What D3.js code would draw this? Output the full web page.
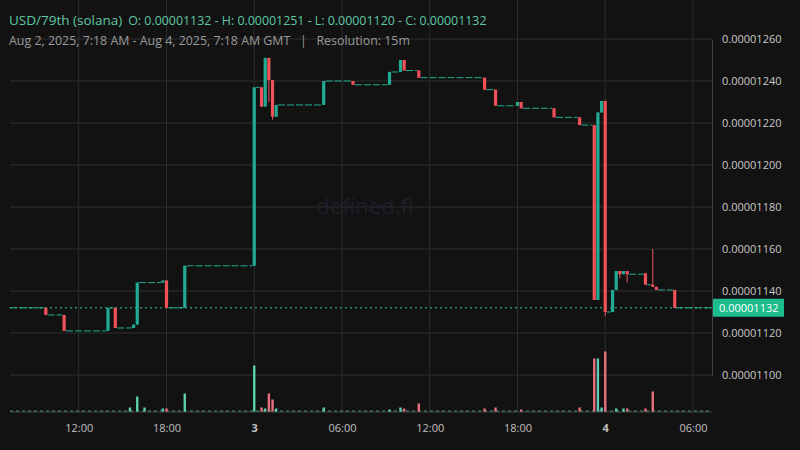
<!DOCTYPE html>
<html>
<head>
<meta charset="utf-8">
<script src="https://cdn.jsdelivr.net/npm/d3@7"></script>
<style>
  body { margin: 0; background: #121212; }
  svg { display: block; font-family: "Open Sans", "Noto Sans", sans-serif; }
</style>
</head>
<body>
<div id="chart"></div>
<script>
// candle times in hours from Aug 2 00:00 GMT, prices in 1e-8 units
const times  = [9.75, 11, 14, 14.5, 15.75, 16, 17.75, 18, 19.25, 24, 24.5, 24.75, 25, 25.25, 25.5, 28.75, 30.75, 33.25, 34, 34.25, 35.25, 39.75, 40.5, 42, 42.25, 44.5, 46.25, 47.25, 47.5, 47.75, 48, 48.5, 48.75, 49, 49.25, 49.5, 50.75, 51.25, 51.5, 52.75];
const opens  = [1132, 1128.6, 1121, 1132, 1122.4, 1124, 1144, 1145, 1132, 1152, 1237, 1227.8, 1251, 1240.5, 1223, 1228.6, 1240, 1238.2, 1244.3, 1250, 1245, 1241.6, 1235.9, 1228.2, 1230, 1227, 1222.7, 1219, 1135.7, 1225, 1230.5, 1130, 1140.5, 1149.5, 1148, 1149.5, 1148.5, 1143, 1142, 1140.5];
const highs  = [1132, 1128.6, 1132, 1132, 1124, 1144, 1145, 1145, 1152, 1237, 1237, 1251, 1251, 1240.5, 1228.6, 1240, 1240, 1244.3, 1250, 1250, 1245, 1241.6, 1235.9, 1230, 1230, 1227, 1222.7, 1219, 1225, 1230.5, 1230.5, 1140.5, 1149.5, 1149.5, 1149.5, 1149.5, 1148.5, 1160, 1142, 1140.5];
const lows   = [1128.6, 1121, 1121, 1122.4, 1122.4, 1124, 1144, 1132, 1132, 1152, 1227.8, 1227.8, 1230, 1221.6, 1223, 1228.6, 1238.2, 1238.2, 1244.3, 1245, 1241.6, 1235.5, 1228.2, 1228.2, 1227, 1222.7, 1219, 1135.7, 1135.7, 1225, 1128, 1130, 1140.5, 1146, 1148, 1144, 1143, 1142, 1140.5, 1132];
const closes = [1128.6, 1121, 1132, 1122.4, 1124, 1144, 1145, 1132, 1152, 1237, 1227.8, 1251, 1240.5, 1223, 1228.6, 1240, 1238.2, 1244.3, 1250, 1245, 1241.6, 1235.9, 1228.2, 1230, 1227, 1222.7, 1219, 1135.7, 1225, 1230.5, 1130, 1140.5, 1149.5, 1148, 1149.5, 1148, 1143, 1142, 1140.5, 1132];
const startPrice = 1132;
const lastPrice = 1132;

// volume bars (same hour units), arbitrary volume units
const volTimes = [15.5, 16, 16.5, 17.75, 18, 19.25, 24, 24.5, 24.75, 25, 25.25, 25.5, 28.75, 33.25, 34, 34.25, 35.25, 39.75, 40.5, 42.25, 46.25, 47.25, 47.5, 47.75, 48, 48.75, 49.25, 49.5, 50.75, 51.25];
const volumes  = [4, 15, 4, 3, 3, 18, 46, 4, 3, 18, 12, 3, 4, 2, 4, 3, 8, 3, 4, 2, 4, 53, 53, 4, 60, 3, 3, 3, 3, 20];
const volUp    = [1, 1, 1, 1, 0, 1, 1, 0, 1, 0, 0, 1, 1, 1, 1, 0, 0, 0, 0, 0, 0, 0, 1, 1, 0, 1, 1, 0, 0, 0];

const yTicks = [1100, 1120, 1140, 1160, 1180, 1200, 1220, 1240, 1260];
const xTicks = [12, 18, 24, 30, 36, 42, 48, 54];
const xTickLabels = ["12:00", "18:00", "3", "06:00", "12:00", "18:00", "4", "06:00"];

const W = 800, H = 450;
const green = "#22ab94", red = "#f23645";
const volGreen = "#5dcfae", volRed = "#e8707f";

const svg = d3.select("#chart").append("svg").attr("width", W).attr("height", H);
svg.append("rect").attr("width", W).attr("height", H).attr("fill", "#121212");

const x = d3.scaleLinear().domain([7.3, 55.3]).range([10, 712]);
const y = d3.scaleLinear().domain([1100, 1260]).range([375, 39]);
const v = d3.scaleLinear().domain([0, 60]).range([411.5, 351.5]);

// grid
svg.append("g").selectAll("line").data(yTicks).join("line")
  .attr("x1", 10).attr("x2", 712).attr("y1", d => y(d)).attr("y2", d => y(d))
  .attr("stroke", "#2e2e2e");
svg.append("g").selectAll("line").data(xTicks).join("line")
  .attr("x1", d => x(d)).attr("x2", d => x(d)).attr("y1", 0).attr("y2", 412)
  .attr("stroke", "#2e2e2e");

// watermark
svg.append("text").attr("x", 365).attr("y", 214).attr("text-anchor", "middle")
  .attr("font-size", 22).attr("fill", "#1e1e2a").text("defined.fi");

// axes
const yAxis = svg.append("g").attr("transform", "translate(712,0)")
  .call(d3.axisRight(y).tickValues(yTicks).tickSize(0).tickPadding(10)
    .tickFormat(d => (d / 1e8).toFixed(8)));
yAxis.select(".domain").attr("stroke", "#444");
yAxis.selectAll("text").attr("fill", "#c8c8c8").attr("font-size", 11)
  .attr("font-family", "Open Sans");

const xAxis = svg.append("g").attr("transform", "translate(0,412)")
  .call(d3.axisBottom(x).tickValues(xTicks).tickSize(0).tickPadding(12)
    .tickFormat((d, i) => xTickLabels[i]));
xAxis.select(".domain").attr("stroke", "#444").attr("d", "M10,0H712");
xAxis.selectAll("text").attr("fill", "#c0c0c0").attr("font-size", 11)
  .attr("font-family", "Open Sans")
  .attr("font-weight", (d, i) => /^\d$/.test(xTickLabels[i]) ? "bold" : "normal");

// volume baseline (tiny volumes)
svg.append("line").attr("x1", 10).attr("x2", 712).attr("y1", v(0) - 0.5).attr("y2", v(0) - 0.5)
  .attr("stroke", volGreen).attr("stroke-dasharray", "3,3").attr("opacity", 0.7);
svg.append("g").selectAll("rect").data(volTimes).join("rect")
  .attr("x", d => x(d) - 1.2).attr("width", 2.4)
  .attr("y", (d, i) => v(volumes[i])).attr("height", (d, i) => v(0) - v(volumes[i]))
  .attr("fill", (d, i) => volUp[i] ? volGreen : volRed);

// flat periods between candles: dashed step at previous close
const flats = times.map((t, i) => ({
  from: i === 0 ? 7.3 : times[i - 1] + 0.125,
  to: t - 0.125,
  p: i === 0 ? startPrice : closes[i - 1]
}));
flats.push({ from: times[times.length - 1] + 0.125, to: 55.3, p: closes[closes.length - 1] });
svg.append("g").selectAll("line").data(flats).join("line")
  .attr("x1", d => x(d.from)).attr("x2", d => x(d.to))
  .attr("y1", d => y(d.p)).attr("y2", d => y(d.p))
  .attr("stroke", green).attr("stroke-width", 1).attr("stroke-dasharray", "7,2");

// last price line
svg.append("line").attr("x1", 10).attr("x2", 712).attr("y1", y(lastPrice)).attr("y2", y(lastPrice))
  .attr("stroke", "#2fc9a0").attr("stroke-dasharray", "2,3");

// candles
const cg = svg.append("g").selectAll("g").data(times).join("g");
cg.append("line")
  .attr("x1", d => x(d)).attr("x2", d => x(d))
  .attr("y1", (d, i) => y(highs[i])).attr("y2", (d, i) => y(lows[i]))
  .attr("stroke", (d, i) => closes[i] >= opens[i] ? green : "#f0525a");
cg.append("rect")
  .attr("x", d => x(d) - 1.6).attr("width", 3.2)
  .attr("y", (d, i) => y(Math.max(opens[i], closes[i])))
  .attr("height", (d, i) => Math.max(1, Math.abs(y(opens[i]) - y(closes[i]))))
  .attr("fill", (d, i) => closes[i] >= opens[i] ? green : "#f0525a");

// last price label
svg.append("rect").attr("x", 713).attr("y", y(lastPrice) - 9).attr("width", 71).attr("height", 18)
  .attr("fill", "#1cbc8c").attr("rx", 1);
svg.append("text").attr("x", 719).attr("y", y(lastPrice) + 4).attr("font-size", 11)
  .attr("fill", "#ffffff").text((lastPrice / 1e8).toFixed(8));

// header
const h1 = svg.append("text").attr("x", 9).attr("y", 25).attr("fill", "#5ec8a6");
h1.append("tspan").attr("font-size", 13.5).text("USD/79th (solana)");
h1.append("tspan").attr("dx", 6).attr("font-size", 12.4)
  .text("O: 0.00001132 - H: 0.00001251 - L: 0.00001120 - C: 0.00001132");
svg.append("text").attr("x", 9).attr("y", 45).attr("font-size", 12.4).attr("fill", "#9a9a9a")
  .text("Aug 2, 2025, 7:18 AM - Aug 4, 2025, 7:18 AM GMT   |   Resolution: 15m")
  .style("white-space", "pre");
</script>
</body>
</html>
